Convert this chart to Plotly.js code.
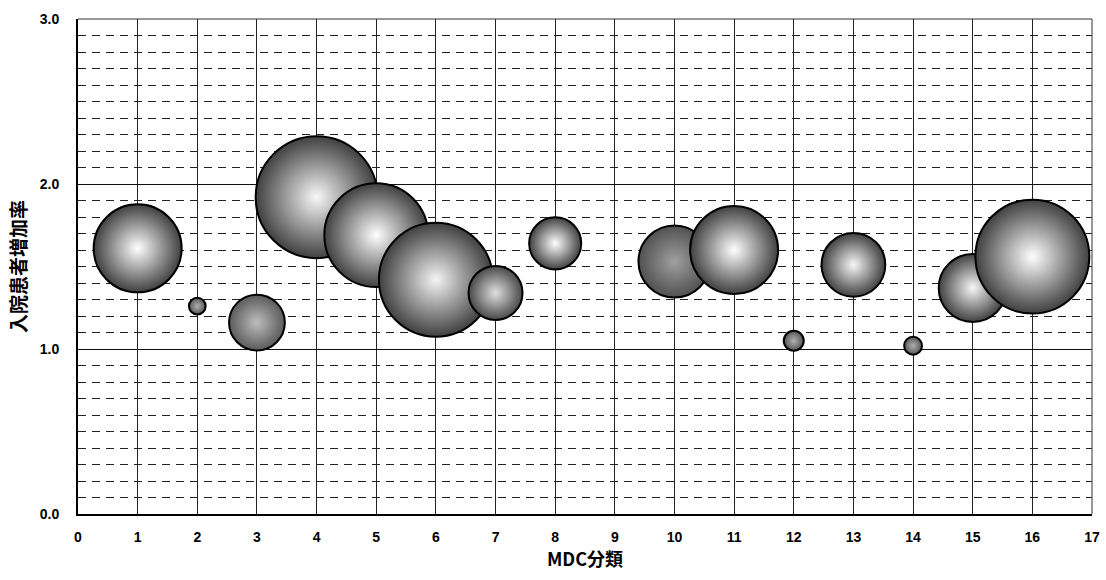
<!DOCTYPE html>
<html>
<head>
<meta charset="utf-8">
<script src="https://cdn.plot.ly/plotly-3.0.1.min.js"></script>
<style>html,body{margin:0;padding:0;background:#fff;}#chart{width:1106px;height:580px;}</style>
</head>
<body>
<div id="chart"></div>
<script>
// MDC category
const mdc = [1, 2, 3, 4, 5, 6, 7, 8, 10, 11, 12, 13, 14, 15, 16];
// inpatient increase rate
const increaseRate = [1.61, 1.26, 1.16, 1.92, 1.69, 1.42, 1.34, 1.64, 1.53, 1.60, 1.05, 1.51, 1.02, 1.37, 1.56];
// bubble size (relative volume)
const bubbleSize = [1.94, 0.07, 0.78, 3.72, 2.70, 3.25, 0.73, 0.68, 1.30, 1.94, 0.10, 1.02, 0.08, 1.16, 3.25];
// shading: center colour and rim colour
const centerColor = ['#ffffff','#b0b0b0','#bdbdbd','#f8f8f8','#ffffff','#f4f4f4','#e0e0e0','#ffffff','#a0a0a0','#ffffff','#b0b0b0','#f8f8f8','#b0b0b0','#f8f8f8','#ffffff'];
const rimColor    = ['#404040','#555555','#5a5a5a','#404040','#404040','#404040','#484848','#404040','#505050','#404040','#555555','#404040','#555555','#404040','#404040'];
const yTickVals = [0, 1, 2, 3];
const yTickText = ['0.0', '1.0', '2.0', '3.0'];
const xTickVals = [0,1,2,3,4,5,6,7,8,9,10,11,12,13,14,15,16,17];

const trace = {
  type: 'scatter',
  mode: 'markers',
  x: mdc,
  y: increaseRate,
  marker: {
    size: bubbleSize,
    sizemode: 'area',
    sizeref: 2 * 1.94 / (88 * 88),
    color: rimColor,
    gradient: {type: 'radial', color: centerColor},
    line: {color: '#000', width: 2},
    opacity: 1
  },
  hoverinfo: 'x+y',
  cliponaxis: false
};

const tickFont = {family: 'Liberation Sans, Arial, sans-serif', size: 14, color: '#000', weight: 'bold'};
const titleFont = {family: 'Noto Sans CJK JP, Liberation Sans, sans-serif', size: 18, color: '#000', weight: 'bold'};
const yTitleFont = {family: 'Noto Sans CJK JP, Liberation Sans, sans-serif', size: 19, color: '#000', weight: 'bold'};

const layout = {
  width: 1106, height: 580,
  margin: {l: 78, r: 14, t: 19, b: 66},
  paper_bgcolor: '#fff',
  plot_bgcolor: '#fff',
  showlegend: false,
  xaxis: {
    range: [0, 17],
    tickvals: xTickVals,
    ticktext: xTickVals.map(String),
    showgrid: true, gridcolor: '#222', gridwidth: 1,
    zeroline: false,
    showline: true, linecolor: '#000', linewidth: 2, mirror: false,
    ticks: '', ticklen: 0,
    ticklabelstandoff: 9,
    tickfont: tickFont,
    title: {text: 'MDC分類', font: titleFont, standoff: 10}
  },
  yaxis: {
    range: [0, 3],
    tickvals: yTickVals,
    ticktext: yTickText,
    showgrid: true, gridcolor: '#111', gridwidth: 1,
    zeroline: false,
    showline: true, linecolor: '#000', linewidth: 2, mirror: false,
    ticks: '', ticklen: 0,
    ticklabelstandoff: 14,
    tickfont: tickFont,
    minor: {dtick: 0.1, tick0: 0, showgrid: true, gridcolor: '#222', gridwidth: 1, griddash: '8px,6px', ticks: ''},
    title: {text: '入院患者増加率', font: yTitleFont, standoff: 8}
  },
  shapes: [
    {type: 'line', xref: 'paper', yref: 'paper', x0: 0, x1: 1, y0: 1, y1: 1, line: {color: '#333', width: 1}},
    {type: 'line', xref: 'paper', yref: 'paper', x0: 1, x1: 1, y0: 0, y1: 1, line: {color: '#333', width: 1}}
  ]
};

Plotly.newPlot('chart', [trace], layout, {displayModeBar: false, staticPlot: true});
</script>
</body>
</html>
